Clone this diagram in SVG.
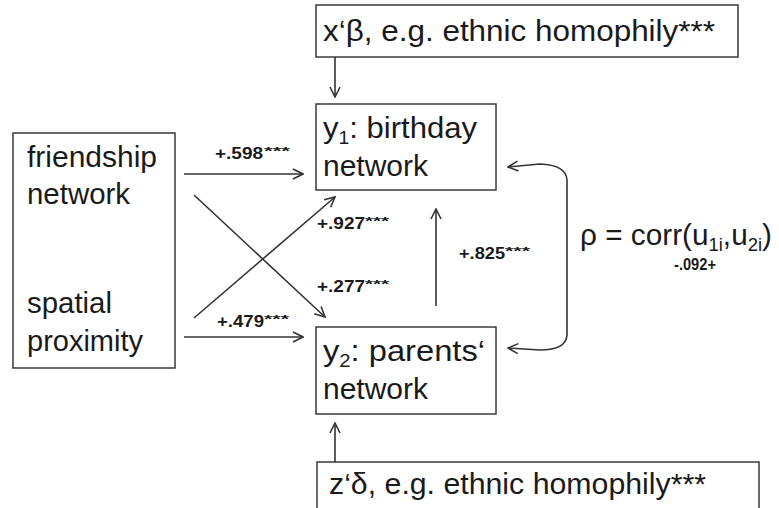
<svg xmlns="http://www.w3.org/2000/svg" width="779" height="508" viewBox="0 0 779 508">
<style>
.box{fill:#fff;stroke:#3a3a3a;stroke-width:1.5}
.t{font-family:"Liberation Sans",Arial,sans-serif;font-size:29px;fill:#1a1a1a}
.l{font-family:"Liberation Sans",Arial,sans-serif;font-size:17px;font-weight:bold;fill:#1a1a1a}
.s{font-family:"Liberation Sans",Arial,sans-serif;font-size:11px;font-weight:bold;fill:#1a1a1a}
.c line,.c path{stroke:#333;stroke-width:1.6;fill:none}
</style>
<defs>
<marker id="ah" viewBox="0 0 12 12" refX="11" refY="6" markerWidth="12" markerHeight="12" markerUnits="userSpaceOnUse" orient="auto">
<path d="M1,1 L11,6 L1,11" fill="none" stroke="#333" stroke-width="1.6"/>
</marker>
</defs>
<rect width="779" height="508" fill="#fff"/>
<g id="xbeta"><rect class="box" x="316" y="5" width="422" height="52"/><text class="t" x="323" y="41" textLength="392" lengthAdjust="spacingAndGlyphs">x‘β, e.g. ethnic homophily***</text></g>
<g id="left"><rect class="box" x="13" y="133" width="162" height="235"/>
<text class="t" x="27" y="167" textLength="130" lengthAdjust="spacingAndGlyphs">friendship</text>
<text class="t" x="27" y="204" textLength="103" lengthAdjust="spacingAndGlyphs">network</text>
<text class="t" x="27" y="313" textLength="85" lengthAdjust="spacingAndGlyphs">spatial</text>
<text class="t" x="27" y="351" textLength="116" lengthAdjust="spacingAndGlyphs">proximity</text></g>
<g id="y1"><rect class="box" x="316" y="104" width="180" height="86"/>
<text class="t" x="323" y="138" textLength="154" lengthAdjust="spacingAndGlyphs">y<tspan font-size="18" dy="6">1</tspan><tspan dy="-6">: birthday</tspan></text>
<text class="t" x="323" y="176" textLength="105" lengthAdjust="spacingAndGlyphs">network</text></g>
<g id="y2"><rect class="box" x="316" y="327" width="180" height="87"/>
<text class="t" x="323" y="361" textLength="162" lengthAdjust="spacingAndGlyphs">y<tspan font-size="18" dy="6">2</tspan><tspan dy="-6">: parents‘</tspan></text>
<text class="t" x="323" y="399" textLength="105" lengthAdjust="spacingAndGlyphs">network</text></g>
<g id="zdelta"><rect class="box" x="317" y="462" width="442" height="60"/><text class="t" x="329" y="494" textLength="377" lengthAdjust="spacingAndGlyphs">z‘δ, e.g. ethnic homophily***</text></g>
<g id="rho"><text class="t" x="580" y="245" textLength="192" lengthAdjust="spacingAndGlyphs">ρ = corr(u<tspan font-size="18" dy="6">1i</tspan><tspan dy="-6">,u</tspan><tspan font-size="18" dy="6">2i</tspan><tspan dy="-6">)</tspan></text>
<text class="l" x="674" y="270" font-size="14" textLength="42" lengthAdjust="spacingAndGlyphs">-.092+</text></g>
<g class="c" id="connectors">
<line x1="335" y1="57" x2="335" y2="97" marker-end="url(#ah)"/>
<line x1="184" y1="174" x2="303" y2="174" marker-end="url(#ah)"/>
<line x1="184" y1="337" x2="303" y2="337" marker-end="url(#ah)"/>
<line x1="194" y1="195" x2="325" y2="317" marker-end="url(#ah)"/>
<line x1="194" y1="318" x2="335" y2="197" marker-end="url(#ah)"/>
<line x1="436" y1="306" x2="436" y2="209" marker-end="url(#ah)"/>
<line x1="335" y1="462" x2="335" y2="423" marker-end="url(#ah)"/>
<path d="M567,200 L567,180 Q566,165 540,164 L508,167" marker-end="url(#ah)"/>
<path d="M567,200 L567,335 Q566,350 540,350 L508,348" marker-end="url(#ah)"/>
</g>
<g id="labels">
<text class="l" x="215" y="159" textLength="48" lengthAdjust="spacingAndGlyphs">+.598</text><text class="s" x="264" y="155" textLength="26" lengthAdjust="spacingAndGlyphs">***</text>
<text class="l" x="217" y="327" textLength="47" lengthAdjust="spacingAndGlyphs">+.479</text><text class="s" x="264" y="323" textLength="25" lengthAdjust="spacingAndGlyphs">***</text>
<text class="l" x="317" y="229" textLength="48" lengthAdjust="spacingAndGlyphs">+.927</text><text class="s" x="365" y="225" textLength="24" lengthAdjust="spacingAndGlyphs">***</text>
<text class="l" x="317" y="292" textLength="48" lengthAdjust="spacingAndGlyphs">+.277</text><text class="s" x="365" y="288" textLength="24" lengthAdjust="spacingAndGlyphs">***</text>
<text class="l" x="459" y="259" textLength="46" lengthAdjust="spacingAndGlyphs">+.825</text><text class="s" x="505" y="255" textLength="25" lengthAdjust="spacingAndGlyphs">***</text>
</g>
</svg>
